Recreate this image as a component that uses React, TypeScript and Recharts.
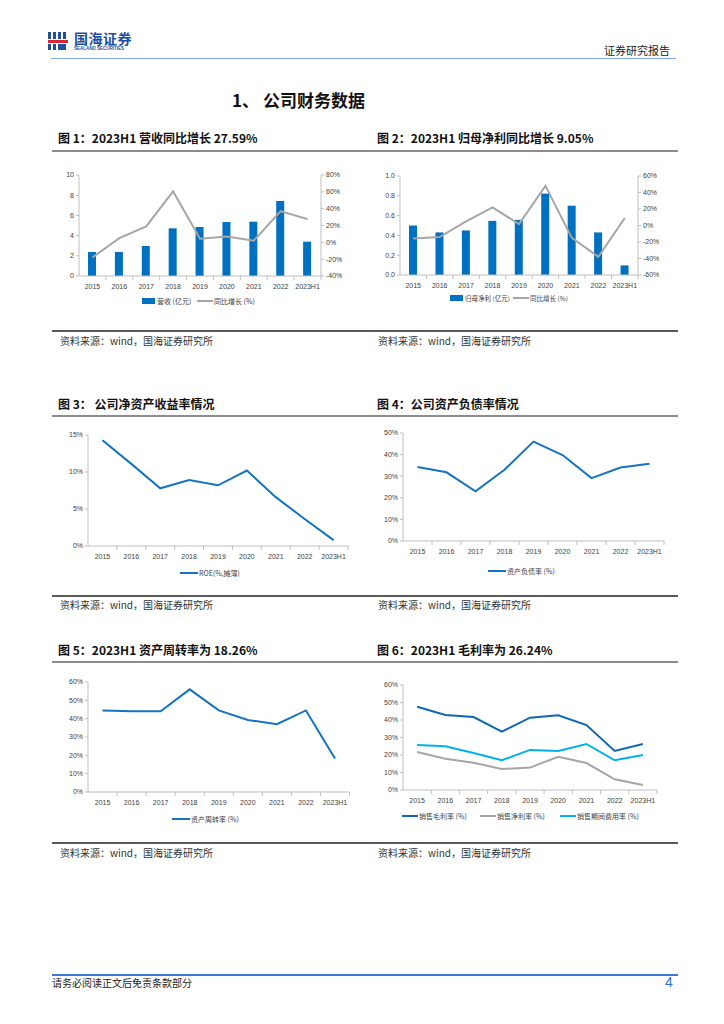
import React from 'react';
import { ComposedChart, Bar, Line, XAxis, YAxis } from 'recharts';

// ---------- data ----------
const years = ['2015', '2016', '2017', '2018', '2019', '2020', '2021', '2022', '2023H1'];
const revenue = [2.38, 2.38, 2.97, 4.72, 4.85, 5.35, 5.38, 7.43, 3.4];
const revenueYoY = [-18, 5, 19, 60.5, 4.4, 7, 2, 37, 27.59];
const netProfit = [0.5, 0.43, 0.45, 0.547, 0.557, 0.822, 0.7, 0.43, 0.097];
const netProfitYoY = [-15.7, -14, 5, 22, 1.6, 48, -15, -38, 9.05];
const roe = [14.3, 11.1, 7.8, 8.9, 8.2, 10.2, 6.6, 3.65, 0.8];
const debtRatio = [34.3, 31.8, 23, 33, 46, 39.8, 29.1, 34, 35.8];
const assetTurnover = [44.5, 44, 44, 56, 44.5, 39.3, 37, 44.5, 18.26];
const grossMargin = [47.6, 42.9, 41.7, 33.3, 41.3, 42.7, 37.1, 22.3, 26.24];
const netMargin = [21.7, 17.9, 15.6, 12, 12.8, 19, 15.4, 6.1, 2.9];
const expenseRate = [25.7, 25, 21.1, 17, 22.9, 22.3, 26.3, 17, 20];

const revTicks = [0, 2, 4, 6, 8, 10];
const revYoYTicks = [-40, -20, 0, 20, 40, 60, 80];
const npTicks = [0, 0.2, 0.4, 0.6, 0.8, 1.0];
const npYoYTicks = [-60, -40, -20, 0, 20, 40, 60];
const roeTicks = [0, 5, 10, 15];
const debtTicks = [0, 10, 20, 30, 40, 50];
const pctTicks60 = [0, 10, 20, 30, 40, 50, 60];

const titles = [
  '图 1：2023H1 营收同比增长 27.59%',
  '图 2：2023H1 归母净利同比增长 9.05%',
  '图 3：  公司净资产收益率情况',
  '图 4：公司资产负债率情况',
  '图 5：2023H1 资产周转率为 18.26%',
  '图 6：2023H1 毛利率为 26.24%',
];
const sourceText = '资料来源：wind，国海证券研究所';

// ---------- styles ----------
const BLUE = '#0070C0';
const LINE_BLUE = '#1574C1';
const GROSS_BLUE = '#0F67B1';
const CYAN = '#00B0F0';
const GRAY = '#A6A6A6';
const AXIS = '#BFBFBF';
const TXT = '#404040';
const NUMFONT = '"Liberation Sans", Arial, sans-serif';
const CJK = '"Noto Sans CJK SC", "Liberation Sans", sans-serif';

const table = years.map((y, i) => ({
  year: y,
  revenue: revenue[i],
  revenueYoY: revenueYoY[i],
  netProfit: netProfit[i],
  netProfitYoY: netProfitYoY[i],
  roe: roe[i],
  debtRatio: debtRatio[i],
  assetTurnover: assetTurnover[i],
  grossMargin: grossMargin[i],
  netMargin: netMargin[i],
  expenseRate: expenseRate[i],
}));

type Series = { key: string; type: 'bar' | 'line'; color: string; axis?: 'left' | 'right' };
type AxisDef = { domain: [number, number]; ticks: number[]; fmt: (v: number) => string };

const LW = 34;

function MiniChart(props: {
  pl: number; pr: number; pt: number; pb: number;
  series: Series[]; left: AxisDef; right?: AxisDef;
}) {
  const { pl, pr, pt, pb, series, left, right } = props;
  const rW = right ? 34 : 24;
  const top = 8;
  const xH = 22;
  const width = pr - pl + LW + rW;
  const height = pb - pt + top + xH;
  const half = (pr - pl) / years.length / 2;
  const XTick = (p: any) => {
    const { x, y, payload } = p;
    return (
      <g>
        <line x1={x + half} x2={x + half} y1={y} y2={y + 4} stroke={AXIS} strokeWidth={1} />
        <text x={x} y={y + 13} textAnchor="middle" fontSize={7} fill={TXT} fontFamily={NUMFONT}>
          {payload.value}
        </text>
      </g>
    );
  };
  return (
    <div style={{ position: 'absolute', left: pl - LW, top: pt - top }}>
      <ComposedChart width={width} height={height} data={table}
        margin={{ top, right: right ? 0 : rW, left: 0, bottom: 0 }} barCategoryGap="0%">
        <XAxis dataKey="year" scale="band" interval={0} height={xH} tickSize={0} tickMargin={0}
          axisLine={{ stroke: AXIS }} tickLine={false} tick={XTick} />
        <YAxis yAxisId="left" orientation="left" width={LW} domain={left.domain} ticks={left.ticks}
          tickFormatter={left.fmt} axisLine={{ stroke: AXIS }} tickLine={{ stroke: AXIS }} tickSize={3} tickMargin={2}
          interval={0} allowDataOverflow
          tick={{ fontSize: 7, fill: TXT, fontFamily: NUMFONT }} />
        {right && (
          <YAxis yAxisId="right" orientation="right" width={34} domain={right.domain} ticks={right.ticks}
            tickFormatter={right.fmt} axisLine={{ stroke: AXIS }} tickLine={{ stroke: AXIS }} tickSize={3} tickMargin={2}
            interval={0} allowDataOverflow
            tick={{ fontSize: 7, fill: TXT, fontFamily: NUMFONT }} />
        )}
        {series.map((s) =>
          s.type === 'bar' ? (
            <Bar key={s.key} dataKey={s.key} yAxisId={s.axis || 'left'} fill={s.color} barSize={8}
              isAnimationActive={false} />
          ) : (
            <Line key={s.key} dataKey={s.key} yAxisId={s.axis || 'left'} stroke={s.color} strokeWidth={2}
              dot={false} activeDot={false} type="linear" isAnimationActive={false} />
          )
        )}
      </ComposedChart>
    </div>
  );
}

function LegendItem(props: { x: number; y: number; kind: 'bar' | 'line'; color: string; label: string; sw?: number; fs?: number }) {
  const { x, y, kind, color, label, sw = 16, fs = 7 } = props;
  return (
    <div style={{ position: 'absolute', left: x, top: y - 6, height: 12, display: 'flex', alignItems: 'center',
      whiteSpace: 'nowrap', fontFamily: CJK, fontSize: fs, color: TXT }}>
      {kind === 'bar' ? (
        <div style={{ width: 13, height: 6, background: color, marginRight: 2 }} />
      ) : (
        <div style={{ width: sw, height: 2, background: color, marginRight: 1 }} />
      )}
      <span>{label}</span>
    </div>
  );
}

const pct = (v: number) => `${v}%`;

function Title({ x, y, text }: { x: number; y: number; text: string }) {
  return (
    <div style={{ position: 'absolute', left: x, top: y - 9, fontFamily: CJK, fontWeight: 700, fontSize: 12,
      color: '#111', whiteSpace: 'nowrap', lineHeight: '18px' }}>{text}</div>
  );
}

function Source({ x, y }: { x: number; y: number }) {
  return (
    <div style={{ position: 'absolute', left: x, top: y - 7, fontFamily: CJK, fontSize: 10, color: '#333',
      whiteSpace: 'nowrap', lineHeight: '14px' }}>{sourceText}</div>
  );
}

function Rule({ y, h, color, x1 = 52, x2 = 678 }: { y: number; h: number; color: string; x1?: number; x2?: number }) {
  return <div style={{ position: 'absolute', left: x1, top: y - h / 2, width: x2 - x1, height: h, background: color }} />;
}

export default function App() {
  return (
    <div style={{ position: 'absolute', left: 0, top: 0, width: 724, height: 1024, background: '#fff', overflow: 'hidden' }}>
      {/* header */}
      <svg style={{ position: 'absolute', left: 48, top: 32 }} width={24} height={18}>
        <rect x={0} y={0} width={3} height={7} fill="#1E4FA0" />
        <rect x={5} y={0} width={3} height={7} fill="#1E4FA0" />
        <rect x={10} y={0} width={3} height={7} fill="#1E4FA0" />
        <rect x={15} y={0} width={3} height={7} fill="#1E4FA0" />
        <rect x={0} y={8} width={20} height={3} fill="#D7262E" />
        <rect x={0} y={12} width={3} height={6} fill="#1E4FA0" />
        <rect x={5} y={12} width={3} height={6} fill="#1E4FA0" />
        <rect x={10} y={12} width={8} height={3} fill="#1E4FA0" />
        <rect x={10} y={15} width={8} height={3} fill="#1E4FA0" />
      </svg>
      <div style={{ position: 'absolute', left: 74, top: 30, fontFamily: CJK, fontWeight: 700, fontSize: 14,
        color: '#1E4FA0', lineHeight: '16px', letterSpacing: 0.5 }}>国海证券</div>
      <div style={{ position: 'absolute', left: 74, top: 46, fontFamily: NUMFONT, fontWeight: 700, fontSize: 4.5,
        color: '#1E4FA0', lineHeight: '6px', whiteSpace: 'nowrap' }}>SEALAND SECURITIES</div>
      <div style={{ position: 'absolute', left: 604, top: 42, fontFamily: CJK, fontSize: 11, color: '#222',
        lineHeight: '16px' }}>证券研究报告</div>
      <Rule y={58} h={1} color="#7FA6DD" x1={51} x2={676} />

      <div style={{ position: 'absolute', left: 232, top: 88, fontFamily: CJK, fontWeight: 700, fontSize: 17,
        color: '#111', lineHeight: '24px', whiteSpace: 'nowrap' }}>1、 公司财务数据</div>

      {/* row 1 */}
      <Title x={58} y={138} text={titles[0]} />
      <Title x={377} y={138} text={titles[1]} />
      <Rule y={151} h={2} color="#8C8C8C" />
      <MiniChart pl={79} pr={321} pt={175} pb={276}
        series={[{ key: 'revenue', type: 'bar', color: BLUE }, { key: 'revenueYoY', type: 'line', color: GRAY, axis: 'right' }]}
        left={{ domain: [0, 10], ticks: revTicks, fmt: (v) => `${v}` }}
        right={{ domain: [-40, 80], ticks: revYoYTicks, fmt: pct }} />
      <LegendItem x={142} y={301} kind="bar" color={BLUE} label="营收 (亿元)" />
      <LegendItem x={197} y={301} kind="line" color={GRAY} label="同比增长 (%)" />
      <MiniChart pl={400} pr={638} pt={176} pb={275}
        series={[{ key: 'netProfit', type: 'bar', color: BLUE }, { key: 'netProfitYoY', type: 'line', color: GRAY, axis: 'right' }]}
        left={{ domain: [0, 1], ticks: npTicks, fmt: (v) => v.toFixed(1) }}
        right={{ domain: [-60, 60], ticks: npYoYTicks, fmt: pct }} />
      <LegendItem x={450} y={298} kind="bar" color={BLUE} label="归母净利 (亿元)" fs={6.5} />
      <LegendItem x={513} y={298} kind="line" color={GRAY} label="同比增长 (%)" fs={6.5} />
      <Rule y={331} h={1.5} color="#595959" />
      <Source x={60} y={341} />
      <Source x={378} y={341} />

      {/* row 2 */}
      <Title x={58} y={404} text={titles[2]} />
      <Title x={377} y={404} text={titles[3]} />
      <Rule y={416} h={2} color="#8C8C8C" />
      <MiniChart pl={87.5} pr={347.5} pt={435} pb={546}
        series={[{ key: 'roe', type: 'line', color: LINE_BLUE }]}
        left={{ domain: [0, 15], ticks: roeTicks, fmt: pct }} />
      <LegendItem x={180} y={573} kind="line" color={LINE_BLUE} label="ROE(%,摊薄)" sw={18} />
      <MiniChart pl={402.5} pr={663.5} pt={433} pb={541}
        series={[{ key: 'debtRatio', type: 'line', color: LINE_BLUE }]}
        left={{ domain: [0, 50], ticks: debtTicks, fmt: pct }} />
      <LegendItem x={488} y={571} kind="line" color={LINE_BLUE} label="资产负债率 (%)" sw={18} />
      <Rule y={596} h={1.5} color="#595959" />
      <Source x={60} y={605} />
      <Source x={378} y={605} />

      {/* row 3 */}
      <Title x={58} y={650} text={titles[4]} />
      <Title x={377} y={650} text={titles[5]} />
      <Rule y={662} h={2} color="#8C8C8C" />
      <MiniChart pl={87.5} pr={349} pt={682} pb={792}
        series={[{ key: 'assetTurnover', type: 'line', color: LINE_BLUE }]}
        left={{ domain: [0, 60], ticks: pctTicks60, fmt: pct }} />
      <LegendItem x={172} y={819} kind="line" color={LINE_BLUE} label="资产周转率 (%)" sw={18} />
      <MiniChart pl={403} pr={657} pt={685} pb={790}
        series={[
          { key: 'grossMargin', type: 'line', color: GROSS_BLUE },
          { key: 'netMargin', type: 'line', color: GRAY },
          { key: 'expenseRate', type: 'line', color: CYAN },
        ]}
        left={{ domain: [0, 60], ticks: pctTicks60, fmt: pct }} />
      <LegendItem x={402} y={816} kind="line" color={GROSS_BLUE} label="销售毛利率 (%)" />
      <LegendItem x={480} y={816} kind="line" color={GRAY} label="销售净利率 (%)" />
      <LegendItem x={560} y={816} kind="line" color={CYAN} label="销售期间费用率 (%)" />
      <Rule y={843} h={1.5} color="#595959" />
      <Source x={60} y={853} />
      <Source x={378} y={853} />

      {/* footer */}
      <Rule y={975} h={1.5} color="#3C78D8" />
      <div style={{ position: 'absolute', left: 52, top: 976, fontFamily: CJK, fontSize: 10, color: '#222',
        lineHeight: '14px' }}>请务必阅读正文后免责条款部分</div>
      <div style={{ position: 'absolute', left: 665, top: 973, fontFamily: NUMFONT, fontSize: 14, color: '#2F6FD0',
        lineHeight: '18px' }}>4</div>
    </div>
  );
}
